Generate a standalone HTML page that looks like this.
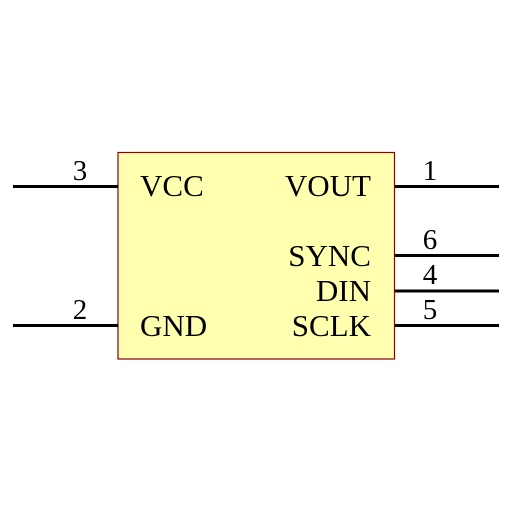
<!DOCTYPE html>
<html><head><style>body{margin:0;background:#fff}</style></head><body>
<svg width="512" height="512" xmlns="http://www.w3.org/2000/svg" font-family="Liberation Serif, serif" font-size="31">
<rect x="118" y="152.5" width="276.5" height="206.5" fill="#ffffb0" stroke="#8b0000" stroke-width="1.2"/>
<g stroke="#000" stroke-width="3">
<line x1="13" y1="186.5" x2="118" y2="186.5"/>
<line x1="13" y1="325.5" x2="118" y2="325.5"/>
<line x1="395" y1="186.5" x2="499" y2="186.5"/>
<line x1="395" y1="255.5" x2="499" y2="255.5"/>
<line x1="395" y1="291" x2="499" y2="291"/>
<line x1="395" y1="325.5" x2="499" y2="325.5"/>
</g>
<g fill="#000">
<text x="140" y="196">VCC</text>
<text x="140" y="336">GND</text>
<g text-anchor="end">
<text x="371" y="196">VOUT</text>
<text x="371" y="266">SYNC</text>
<text x="371" y="301">DIN</text>
<text x="371" y="336">SCLK</text>
</g>
<g text-anchor="middle" font-size="29">
<text x="80" y="180">3</text>
<text x="80" y="319">2</text>
<text x="430" y="180">1</text>
<text x="430" y="249">6</text>
<text x="430" y="284">4</text>
<text x="430" y="319">5</text>
</g>
</g>
</svg>
</body></html>
